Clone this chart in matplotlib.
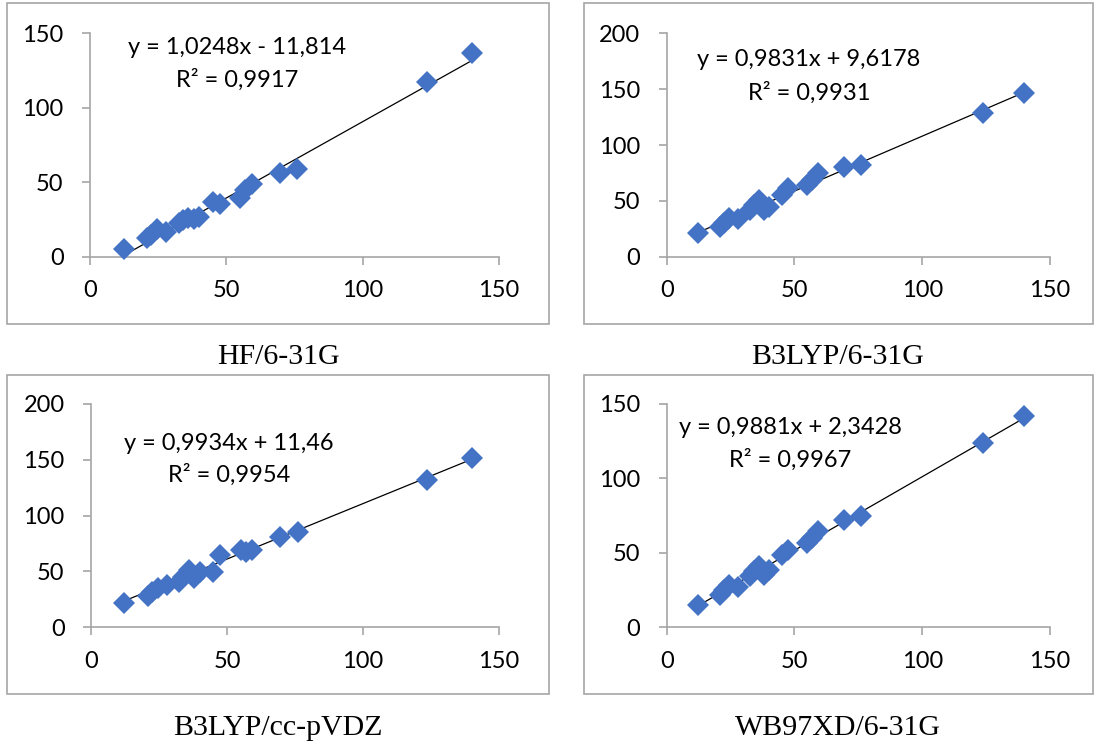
import matplotlib
matplotlib.use("Agg")
import matplotlib.pyplot as plt
from matplotlib.patches import Rectangle
import numpy as np

W, H = 1094, 749
DPI = 100

# ---- data ----
x_vals = [12.3, 20.8, 22.5, 24.5, 28.0, 32.5, 34.0, 36.0, 38.0, 40.0,
          45.0, 47.5, 55.0, 57.0, 59.3, 69.5, 76.0, 123.7, 140.0]

y_hf = [4.9, 12.3, 14.5, 18.5, 16.8, 22.5, 24.5, 25.7, 25.0, 26.4,
        36.5, 35.5, 39.5, 44.5, 49.0, 56.5, 58.7, 117.5, 136.6]
y_b3lyp = [20.9, 26.9, 30.5, 34.3, 33.4, 41.8, 46.3, 50.7, 41.8, 44.8,
           55.2, 61.2, 64.2, 68.7, 74.6, 80.6, 82.1, 128.4, 146.3]
y_b3lyp_cc = [22.1, 28.1, 32.0, 35.0, 38.0, 40.9, 45.4, 51.3, 43.9, 49.9,
              49.9, 64.8, 69.3, 67.8, 69.0, 81.2, 85.7, 131.9, 151.3]
y_wb97 = [15.1, 21.8, 25.0, 28.5, 27.0, 34.2, 37.5, 40.9, 35.3, 38.7,
          48.8, 52.1, 56.6, 60.0, 64.5, 71.9, 74.6, 124.0, 142.0]

titles = ["HF/6-31G", "B3LYP/6-31G", "B3LYP/cc-pVDZ", "WB97XD/6-31G"]
slopes = [1.0248, 0.9831, 0.9934, 0.9881]
intercepts = [-11.814, 9.6178, 11.46, 2.3428]
eq_texts = ["y = 1,0248x - 11,814", "y = 0,9831x + 9,6178",
            "y = 0,9934x + 11,46", "y = 0,9881x + 2,3428"]
r2_texts = ["R² = 0,9917", "R² = 0,9931", "R² = 0,9954", "R² = 0,9967"]
y_maxes = [150, 200, 200, 150]
y_series = [y_hf, y_b3lyp, y_b3lyp_cc, y_wb97]
x_ticks = [0, 50, 100, 150]

# ---- layout (pixels) ----
axes_px = [(90.0, 499.0, 33.3, 256.7), (666.7, 1050.0, 33.3, 256.7),
           (91.0, 499.0, 404.0, 627.3), (666.7, 1050.0, 404.0, 627.3)]
boxes_px = [(7, 549, 3, 324), (584, 1093, 3, 324),
            (7, 549, 375, 694), (584, 1093, 375, 694)]
eq_pos = [(237, 48, 80), (809, 60, 93), (229, 443, 475), (790, 428, 460)]
title_pos = [(278, 357), (838, 357), (278, 728), (838, 728)]

SANS = ["Lato", "DejaVu Sans"]
SERIF = ["Liberation Serif", "DejaVu Serif"]
GRAY = "#A6A6A6"
BLUE = "#4472C4"
FS = 17

fig = plt.figure(figsize=(W / DPI, H / DPI), dpi=DPI)
fig.patch.set_facecolor("white")


def fx(x):
    return x / W


def fy(y):
    return 1 - y / H


for i in range(4):
    bl, br, bt, bb = boxes_px[i]
    fig.patches.append(Rectangle((fx(bl), fy(bb)), fx(br) - fx(bl), fy(bt) - fy(bb),
                                 transform=fig.transFigure, fill=False,
                                 edgecolor=GRAY, linewidth=1.2))
    l, r, t, b = axes_px[i]
    ax = fig.add_axes([fx(l), fy(b), fx(r) - fx(l), fy(t) - fy(b)])
    ax.set_facecolor("none")
    ax.set_xlim(0, 150)
    ax.set_ylim(0, y_maxes[i])
    ax.set_xticks(x_ticks)
    ax.set_yticks(list(range(0, y_maxes[i] + 1, 50)))
    for s in ["top", "right"]:
        ax.spines[s].set_visible(False)
    for s in ["left", "bottom"]:
        ax.spines[s].set_color(GRAY)
        ax.spines[s].set_linewidth(1.2)
    ax.tick_params(axis="both", direction="out", length=6, width=1.2, color=GRAY,
                   labelsize=FS, labelcolor="black")
    ax.tick_params(axis="y", pad=13)
    ax.tick_params(axis="x", pad=11)
    for lab in ax.get_xticklabels() + ax.get_yticklabels():
        lab.set_family(SANS)

    xs = np.array(x_vals)
    ys = np.array(y_series[i])
    xl = np.array([xs.min(), xs.max()])
    ax.plot(xl, slopes[i] * xl + intercepts[i], color="black", linewidth=0.9, zorder=2)
    ax.plot(xs, ys, linestyle="none", marker="D", markersize=11,
            markerfacecolor=BLUE, markeredgewidth=0, zorder=3, clip_on=False)

    cx, y1, y2 = eq_pos[i]
    fig.text(fx(cx), fy(y1), eq_texts[i], ha="center", va="center",
             fontsize=FS, family=SANS)
    fig.text(fx(cx), fy(y2), r2_texts[i], ha="center", va="center",
             fontsize=FS, family=SANS)
    tx, ty = title_pos[i]
    fig.text(fx(tx), fy(ty), titles[i], ha="center", va="center",
             fontsize=21.5, family=SERIF)

fig.savefig("out.png", dpi=DPI)
